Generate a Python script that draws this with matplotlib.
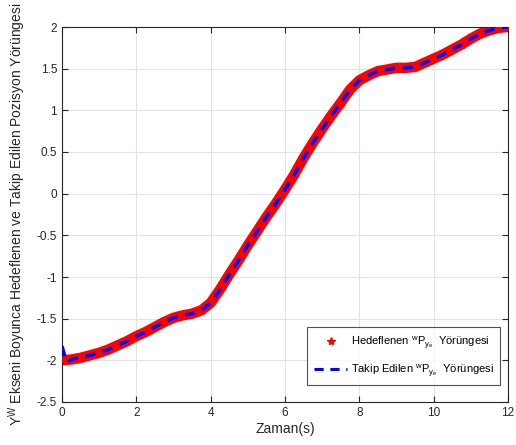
import matplotlib
matplotlib.use("Agg")
import matplotlib.pyplot as plt
from matplotlib.lines import Line2D

plt.rcParams['font.family'] = ['Liberation Sans', 'DejaVu Sans']
plt.rcParams['mathtext.fontset'] = 'custom'
plt.rcParams['mathtext.rm'] = 'Liberation Sans'
plt.rcParams['mathtext.it'] = 'Liberation Sans'
plt.rcParams['mathtext.default'] = 'regular'

# Time (s)
t_ref = [0, 0.25, 0.5, 0.75, 1.0, 1.25, 1.5, 1.75, 2.0, 2.25, 2.5, 2.75, 3.0, 3.25, 3.5,
         3.75, 4.0, 4.25, 4.5, 4.75, 5.0, 5.25, 5.5, 5.75, 6.0, 6.25, 6.5, 6.75, 7.0,
         7.25, 7.5, 7.75, 8.0, 8.25, 8.5, 8.75, 9.0, 9.25, 9.5, 9.75, 10.0, 10.25, 10.5,
         10.75, 11.0, 11.25, 11.5, 11.75, 12.0]
# Target trajectory (Hedeflenen)
y_ref = [-2.00, -1.99, -1.97, -1.94, -1.91, -1.87, -1.82, -1.77, -1.71, -1.66, -1.60,
         -1.54, -1.49, -1.46, -1.44, -1.40, -1.31, -1.15, -0.97, -0.80, -0.62, -0.45,
         -0.28, -0.12, 0.05, 0.23, 0.43, 0.61, 0.78, 0.94, 1.09, 1.25, 1.36, 1.42, 1.47,
         1.49, 1.51, 1.51, 1.52, 1.57, 1.62, 1.67, 1.73, 1.79, 1.86, 1.92, 1.96, 1.99, 2.00]

# Tracked trajectory (Takip Edilen)
t_trk = [0, 0.12, 0.25, 0.5, 0.75, 1.0, 1.25, 1.5, 1.75, 2.0, 2.25, 2.5, 2.75, 3.0, 3.25, 3.5,
         3.75, 4.0, 4.25, 4.5, 4.75, 5.0, 5.25, 5.5, 5.75, 6.0, 6.25, 6.5, 6.75, 7.0,
         7.25, 7.5, 7.75, 8.0, 8.25, 8.5, 8.75, 9.0, 9.25, 9.5, 9.75, 10.0, 10.25, 10.5,
         10.75, 11.0, 11.25, 11.5, 11.75, 12.0]
y_trk = [-1.83, -2.02, -1.99, -1.96, -1.94, -1.91, -1.87, -1.82, -1.77, -1.71, -1.66, -1.60,
         -1.54, -1.49, -1.46, -1.44, -1.40, -1.31, -1.15, -0.97, -0.80, -0.62, -0.45,
         -0.28, -0.12, 0.05, 0.23, 0.43, 0.61, 0.78, 0.94, 1.09, 1.25, 1.36, 1.42, 1.47,
         1.49, 1.51, 1.51, 1.52, 1.57, 1.62, 1.67, 1.73, 1.79, 1.86, 1.92, 1.96, 1.99, 2.00]

xticks = [0, 2, 4, 6, 8, 10, 12]
yticks = [-2.5, -2, -1.5, -1, -0.5, 0, 0.5, 1, 1.5, 2]
ytick_labels = ['-2.5', '-2', '-1.5', '-1', '-0.5', '0', '0.5', '1', '1.5', '2']

fig = plt.figure(figsize=(5.16, 4.45), dpi=100)
ax = fig.add_axes([62/516, 43/445, 446/516, 375/445])

ax.plot(t_ref, y_ref, color='red', lw=7.5, solid_capstyle='round', solid_joinstyle='round',
        zorder=2)
ax.plot(t_ref, y_ref, linestyle='none', marker='*', color='red', markersize=5, zorder=3)
ax.plot(t_trk, y_trk, color='blue', lw=2.5, linestyle=(0, (3, 2.2)), zorder=4)

handles = [
    Line2D([], [], linestyle='none', marker='*', color='red', markersize=6),
    Line2D([], [], color='blue', lw=2.2, linestyle=(0, (3, 2.2))),
]
labels = [r'Hedeflenen $^{w}P_{y_{e}}$  Yörüngesi',
          r'Takip Edilen $^{w}P_{y_{e}}$  Yörüngesi']

ax.set_xlim(0, 12)
ax.set_ylim(-2.5, 2)
ax.set_xticks(xticks)
ax.set_yticks(yticks)
ax.set_yticklabels(ytick_labels)
ax.tick_params(direction='in', top=True, right=True, labelsize=8.5, colors='#262626',
               length=4, width=0.8)
ax.grid(True, color='#e3e3e3', linewidth=0.8)
ax.set_axisbelow(True)
for s in ax.spines.values():
    s.set_color('#262626')
    s.set_linewidth(0.8)

ax.set_xlabel('Zaman(s)', fontsize=10, color='#262626', labelpad=2)
ax.set_ylabel(r'$Y^{W}$ Ekseni Boyunca Hedeflenen ve Takip Edilen Pozisyon Yörüngesi',
              fontsize=10, color='#262626', labelpad=6)

leg = ax.legend(handles, labels, loc='lower right', fontsize=8, frameon=True, fancybox=False,
                edgecolor='#262626', handlelength=3.0, borderpad=0.6, labelspacing=1.0,
                handletextpad=0.3, bbox_to_anchor=(0.995, 0.03))
leg.get_frame().set_linewidth(0.8)

fig.savefig('out.png', dpi=100)
